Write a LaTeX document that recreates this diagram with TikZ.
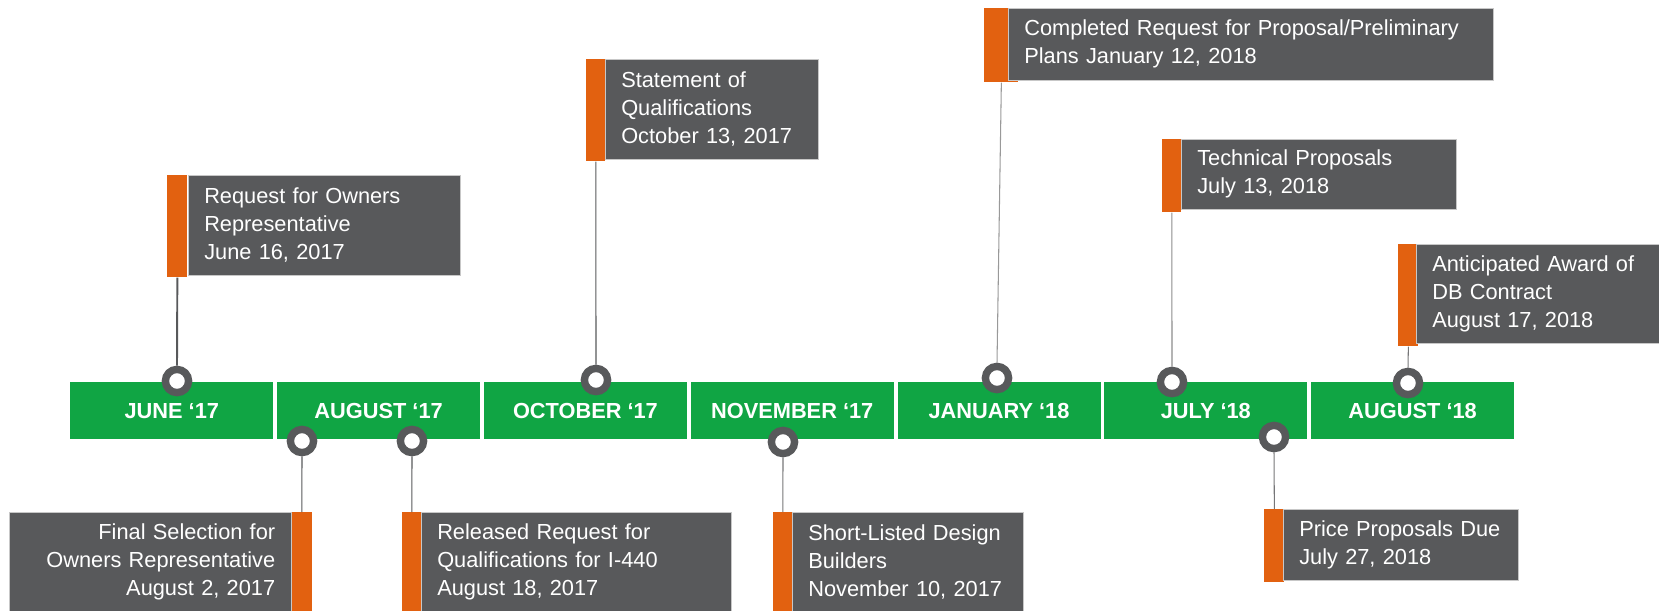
\documentclass[tikz,border=0pt]{standalone}
\usepackage{fontspec}
\setmainfont{Liberation Sans}
\definecolor{tlgreen}{RGB}{16,165,68}
\definecolor{tlorange}{RGB}{226,97,16}
\definecolor{tlgray}{RGB}{88,89,91}
\definecolor{stemgray}{RGB}{118,118,120}
\tikzset{
  month/.style={fill=tlgreen,minimum width=4.06cm,minimum height=1.14cm,inner sep=0pt,text=white,font=\bfseries\fontsize{12.4}{14}\selectfont,anchor=north west},
  tag/.style={fill=tlorange,inner sep=0pt,anchor=north west},
  note/.style={fill=tlgray,draw=black!22,line width=0.3pt,text=white,inner xsep=0.32cm,inner ysep=0pt,text width=#1,align=left,anchor=north west,font=\fontsize{12.4}{15.9}\selectfont},
  dot/.style={circle,draw=tlgray,fill=white,line width=0.148cm,minimum size=0.464cm,inner sep=0pt},
  stem/.style={draw=stemgray,line width=0.6pt}
}

\begin{document}
\begin{tikzpicture}[x=0.02cm,y=-0.02cm]
\useasboundingbox (0,0) rectangle (1659,610);
\clip (0,0) rectangle (1659,610);

% month strip
\foreach \m [count=\i from 0] in {JUNE ‘17,AUGUST ‘17,OCTOBER ‘17,NOVEMBER ‘17,JANUARY ‘18,JULY ‘18,AUGUST ‘18}
  \node[month] (m\i) at ({70+206.8*\i},382) {\m};

% milestones above the strip
\node[tag,minimum width=0.40cm,minimum height=2.04cm] (tagA) at (167,175) {};
\node[note=4.80cm,minimum height=2.0cm] (noteA) at (188,175) {Request for Owners\\Representative\\June 16, 2017};
\node[dot] (dotA) at (177,381) {};

\node[tag,minimum width=0.38cm,minimum height=2.04cm] (tagB) at (586,59) {};
\node[note=3.62cm,minimum height=2.0cm] (noteB) at (605,59) {Statement of\\Qualifications\\October 13, 2017};
\node[dot] (dotB) at (596,380) {};

\node[tag,minimum width=0.68cm,minimum height=1.48cm] (tagC) at (984,8) {};
\node[note=9.06cm,minimum height=1.44cm] (noteC) at (1008,8) {Completed Request for Proposal/Preliminary\\Plans January 12, 2018};
\node[dot] (dotC) at (997,378) {};

\node[tag,minimum width=0.38cm,minimum height=1.46cm] (tagD) at (1162,139) {};
\node[note=4.86cm,minimum height=1.40cm] (noteD) at (1181,139) {Technical Proposals\\July 13, 2018};
\node[dot] (dotD) at (1172,382) {};

\node[tag,minimum width=0.40cm,minimum height=2.04cm] (tagE) at (1398,244) {};
\node[note=4.56cm,minimum height=1.98cm] (noteE) at (1416,244) {Anticipated Award of\\DB Contract\\August 17, 2018};
\node[dot] (dotE) at (1408,383) {};

% milestones below the strip
\node[tag,minimum width=0.42cm,minimum height=2.0cm] (tagF) at (291,512) {};
\node[note=5.00cm,minimum height=2.0cm,align=right] (noteF) at (9,512) {Final Selection for\\Owners Representative\\August 2, 2017};
\node[dot] (dotF) at (302,441) {};

\node[tag,minimum width=0.38cm,minimum height=2.0cm] (tagG) at (402,512) {};
\node[note=5.56cm,minimum height=2.0cm] (noteG) at (421,512) {Released Request for\\Qualifications for I-440\\August 18, 2017};
\node[dot] (dotG) at (412,441) {};

\node[tag,minimum width=0.38cm,minimum height=2.0cm] (tagH) at (773,512) {};
\node[note=3.98cm,minimum height=2.0cm] (noteH) at (792,512) {Short-Listed Design\\Builders\\November 10, 2017};
\node[dot] (dotH) at (783,442) {};

\node[tag,minimum width=0.40cm,minimum height=1.46cm] (tagI) at (1264,509) {};
\node[note=4.06cm,minimum height=1.42cm] (noteI) at (1283,509) {Price Proposals Due\\July 27, 2018};
\node[dot] (dotI) at (1274,437) {};

% stems
\draw[stem,draw=tlgray,line width=1.1pt] (tagA.south) -- (dotA.north);
\draw[stem,draw=tlgray] (tagB.south) -- (dotB.north);
\draw[stem,draw=black!40] (tagC.south) -- (dotC.north);
\draw[stem,draw=black!45] (tagD.south) -- (dotD.north);
\draw[stem] (tagE.south) -- (dotE.north);
\draw[stem,draw=tlgray] (dotF.south) -- (tagF.north);
\draw[stem,draw=tlgray] (dotG.south) -- (tagG.north);
\draw[stem] (dotH.south) -- (tagH.north);
\draw[stem] (dotI.south) -- (tagI.north);
\end{tikzpicture}
\end{document}
